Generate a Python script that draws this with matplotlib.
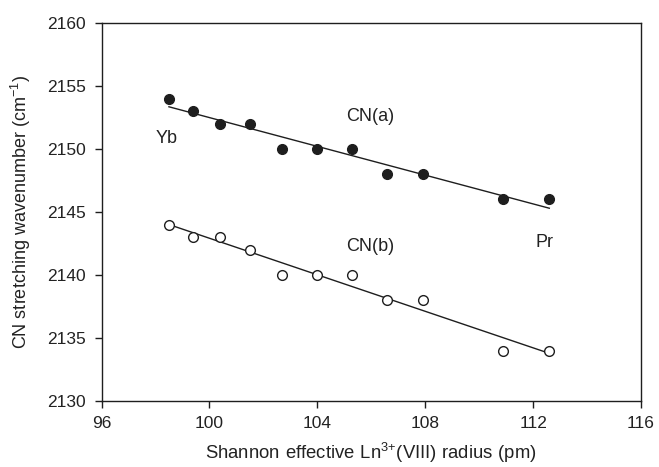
import numpy as np
import matplotlib
matplotlib.use("Agg")
import matplotlib.pyplot as plt

plt.rcParams['font.family'] = ['Liberation Sans', 'DejaVu Sans']
plt.rcParams['mathtext.fontset'] = 'custom'
plt.rcParams['mathtext.rm'] = 'Liberation Sans'
plt.rcParams['mathtext.default'] = 'regular'

radius = [98.5, 99.4, 100.4, 101.5, 102.7, 104.0, 105.3, 106.6, 107.9, 110.9, 112.6]
cn_a = [2154, 2153, 2152, 2152, 2150, 2150, 2150, 2148, 2148, 2146, 2146]
cn_b = [2144, 2143, 2143, 2142, 2140, 2140, 2140, 2138, 2138, 2134, 2134]

ink = '#1e1e1e'
txt = '#222222'

fig = plt.figure(figsize=(6.59, 4.67), dpi=100)
ax = fig.add_axes([101.5/659, 1 - 401/467, (641-101.5)/659, (401-23)/467])

x = np.array(radius)
for y, fc in ((cn_a, ink), (cn_b, 'white')):
    y = np.array(y)
    k, b = np.polyfit(x, y, 1)
    xl = np.array([x.min(), x.max()])
    ax.plot(xl, k*xl + b, color=ink, lw=1.0, zorder=2)
    ax.plot(x, y, 'o', ms=7, mfc=fc, mec=ink, mew=1.0, zorder=3)

ax.set_xlim(96, 116)
ax.set_ylim(2130, 2160)
ax.set_xticks([96, 100, 104, 108, 112, 116])
ax.set_yticks([2130, 2135, 2140, 2145, 2150, 2155, 2160])
ax.tick_params(direction='out', length=5, width=1, labelsize=12.5, top=False, right=False,
               pad=6, colors=ink, labelcolor=txt)
for s in ax.spines.values():
    s.set_linewidth(1.0)
    s.set_color(ink)

fs = 13
ax.text(98.42, 2150.87, 'Yb', fontsize=fs, ha='center', va='center', color=txt)
ax.text(105.96, 2152.54, 'CN(a)', fontsize=fs, ha='center', va='center', color=txt)
ax.text(105.96, 2142.25, 'CN(b)', fontsize=fs, ha='center', va='center', color=txt)
ax.text(112.44, 2142.54, 'Pr', fontsize=fs, ha='center', va='center', color=txt)

ax.set_xlabel(r'$\mathregular{Shannon\ effective\ Ln^{3{+}}(VIII)\ radius\ (pm)}$',
              fontsize=13.3, labelpad=7, color=txt)
ax.set_ylabel('CN stretching wavenumber (cm$^{-1}$)', fontsize=fs, labelpad=10, color=txt)

fig.savefig('out.png', dpi=100)
